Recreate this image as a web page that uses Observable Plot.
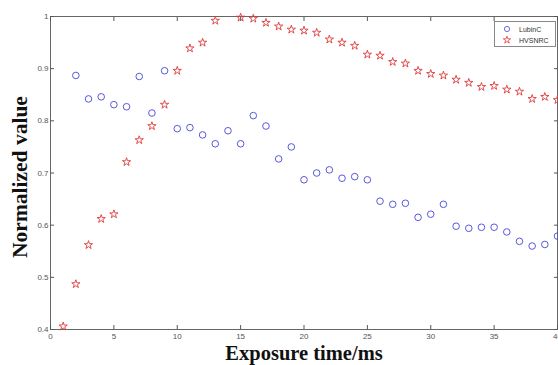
<!DOCTYPE html>
<html><head><meta charset="utf-8">
<script src="https://cdn.jsdelivr.net/npm/d3@7"></script>
<script src="https://cdn.jsdelivr.net/npm/@observablehq/plot@0.6"></script>
<style>
body{margin:0;background:#fff;}
#wrap{position:relative;width:558px;height:365px;}
#legend{position:absolute;left:494px;top:21px;width:62px;height:26px;border:1px solid #888;background:#fff;box-sizing:border-box;font:7px "Liberation Sans",sans-serif;color:#333;}
</style></head>
<body><div id="wrap"><div id="legend"></div></div>
<script>
const lubinX = [2,3,4,5,6,7,8,9,10,11,12,13,14,15,16,17,18,19,20,21,22,23,24,25,26,27,28,29,30,31,32,33,34,35,36,37,38,39,40];
const lubinY = [0.887,0.842,0.846,0.831,0.827,0.885,0.815,0.896,0.785,0.787,0.773,0.756,0.781,0.756,0.810,0.790,0.727,0.750,0.687,0.700,0.706,0.690,0.693,0.687,0.646,0.640,0.642,0.615,0.621,0.640,0.598,0.594,0.596,0.596,0.587,0.569,0.560,0.563,0.579];
const hvsX = [1,2,3,4,5,6,7,8,9,10,11,12,13,15,16,17,18,19,20,21,22,23,24,25,26,27,28,29,30,31,32,33,34,35,36,37,38,39,40];
const hvsY = [0.406,0.487,0.562,0.612,0.621,0.721,0.763,0.790,0.831,0.896,0.939,0.950,0.992,0.998,0.996,0.988,0.981,0.975,0.973,0.969,0.956,0.950,0.944,0.927,0.925,0.913,0.910,0.896,0.890,0.887,0.879,0.873,0.865,0.867,0.860,0.856,0.842,0.846,0.840];
const xTicks = [0,5,10,15,20,25,30,35,40];
const yTicks = [0.4,0.5,0.6,0.7,0.8,0.9,1];
const seriesNames = ["LubinC","HVSNRC"];
const blue = "#4646d8", red = "#e03a3a";

const lubin = lubinX.map((x,i)=>({x, y: lubinY[i]}));
const hvs = hvsX.map((x,i)=>({x, y: hvsY[i]}));
const yfmt = d => d === 1 ? "1" : d.toFixed(1);
const tickStyle = {stroke:"#555", fill:"#555", fontSize:8, label:null};

const chart = Plot.plot({
  width: 558, height: 365,
  marginLeft: 50, marginRight: 1, marginTop: 16, marginBottom: 36,
  style: {fontFamily: "Liberation Sans, sans-serif", background: "white"},
  x: {domain: [0,40], axis: null},
  y: {domain: [0.4,1], axis: null},
  marks: [
    Plot.frame({stroke:"#666"}),
    Plot.axisX(xTicks, {...tickStyle, anchor:"bottom", tickSize:-4, tickPadding:8}),
    Plot.axisX(xTicks, {...tickStyle, anchor:"top", tickSize:-4, tickFormat: () => ""}),
    Plot.axisY(yTicks, {...tickStyle, anchor:"left", tickSize:-4, tickPadding:6, tickFormat: yfmt}),
    Plot.axisY(yTicks, {...tickStyle, anchor:"right", tickSize:-4, tickFormat: () => ""}),
    Plot.dot(lubin, {x:"x", y:"y", r:3.3, stroke: blue, strokeWidth:0.9, fill:"none"}),
    Plot.dot(hvs, {x:"x", y:"y", r:2.6, symbol:"star", stroke: red, strokeWidth:0.9, fill:"none"}),
    Plot.text(["Exposure time/ms"], {frameAnchor:"bottom", lineAnchor:"middle", textAnchor:"middle", dy:24, fontFamily:"Liberation Serif, serif", fontWeight:"bold", fontSize:20.5, fill:"#111"}),
    Plot.text(["Normalized value"], {frameAnchor:"left", lineAnchor:"middle", textAnchor:"middle", dx:-30, dy:4, rotate:-90, fontFamily:"Liberation Serif, serif", fontWeight:"bold", fontSize:21.5, fill:"#111"})
  ]
});
document.getElementById("wrap").prepend(chart);

// legend
const leg = document.getElementById("legend");
const syms = [d3.symbol(d3.symbolCircle, Math.PI*2.6*2.6)(), d3.symbol(d3.symbolStar, Math.PI*2.3*2.3)()];
const cols = [blue, red];
leg.innerHTML = seriesNames.map((n,i)=>
  `<div style="position:absolute;left:4px;top:${2+i*11}px;height:10px;display:flex;align-items:center;">
     <svg width="16" height="10"><path d="${syms[i]}" transform="translate(8,5)" fill="none" stroke="${cols[i]}" stroke-width="0.8"/></svg>
     <span style="margin-left:4px">${n}</span></div>`).join("");
</script>
</body></html>
